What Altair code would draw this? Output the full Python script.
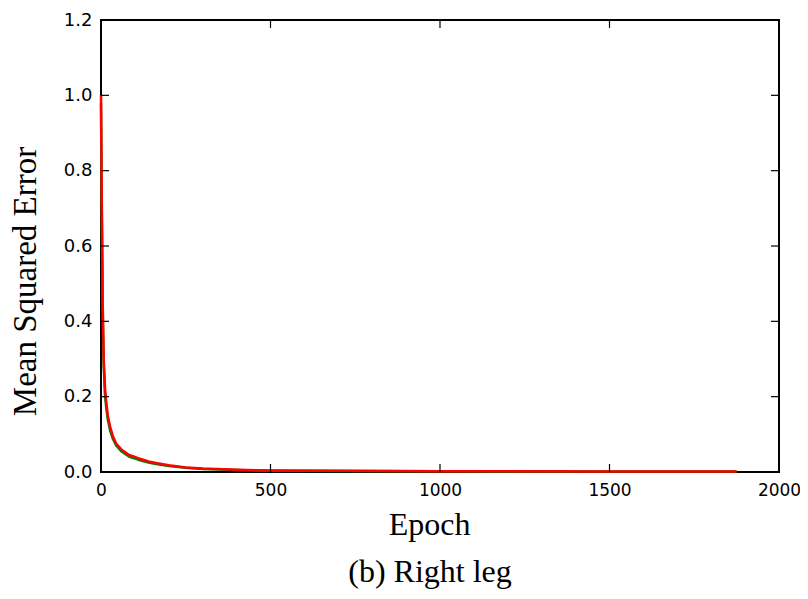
import altair as alt
import pandas as pd

epochs = [0, 2, 5, 8, 12, 15, 20, 27, 35, 45, 60, 83, 100, 115, 140, 162, 200, 250, 300, 400, 500, 700, 1000, 1500, 1875]
mse_green = [0.98, 0.72, 0.43, 0.28, 0.20, 0.175, 0.14, 0.11, 0.088, 0.07, 0.055, 0.041, 0.036, 0.031, 0.025, 0.021, 0.016, 0.011, 0.008, 0.005, 0.0035, 0.0025, 0.0018, 0.0013, 0.001]
mse_red = [1.0, 0.75, 0.45, 0.30, 0.22, 0.19, 0.15, 0.12, 0.095, 0.075, 0.06, 0.045, 0.04, 0.035, 0.028, 0.024, 0.018, 0.012, 0.009, 0.006, 0.004, 0.003, 0.002, 0.0015, 0.001]
x_ticks = [0, 500, 1000, 1500, 2000]
y_ticks = [0.0, 0.2, 0.4, 0.6, 0.8, 1.0, 1.2]

W, H = 678, 452

df = pd.DataFrame({
    "epoch": epochs * 2,
    "mse": mse_green + mse_red,
    "series": ["green"] * len(epochs) + ["red"] * len(epochs),
})
xt = pd.DataFrame({"t": x_ticks})
yt = pd.DataFrame({"t": y_ticks})

xscale = alt.Scale(domain=[0, 2000], nice=False, zero=False)
yscale = alt.Scale(domain=[0, 1.2], nice=False, zero=False)

xaxis = alt.Axis(values=x_ticks, format="d", ticks=False, domain=False, grid=False,
                 labelFlush=False, labelOverlap=False,
                 labelFont="DejaVu Sans", labelFontSize=17, labelColor="black", labelPadding=10,
                 title="Epoch", titleFont="Liberation Serif", titleFontSize=32, titleFontWeight="normal",
                 titleColor="black", titleBaseline="alphabetic", titleAlign="center",
                 titleX=328, titleY=62)
yaxis = alt.Axis(values=y_ticks, format=".1f", ticks=False, domain=False, grid=False,
                 labelFlush=False, labelOverlap=False,
                 labelFont="DejaVu Sans", labelFontSize=18, labelColor="black", labelPadding=9,
                 title="Mean Squared Error", titleFont="Liberation Serif", titleFontSize=33,
                 titleFontWeight="normal", titleColor="black", titleBaseline="alphabetic",
                 titleAlign="center", titleAngle=-90, titleX=-66, titleY=261)

base = alt.Chart(df)
green = base.transform_filter(alt.datum.series == "green").mark_line(
    color="#008000", strokeWidth=2.5).encode(
    x=alt.X("epoch:Q", scale=xscale, axis=xaxis),
    y=alt.Y("mse:Q", scale=yscale, axis=yaxis),
)
red = base.transform_filter(alt.datum.series == "red").mark_line(
    color="#ff0000", strokeWidth=2.5).encode(
    x=alt.X("epoch:Q", scale=xscale),
    y=alt.Y("mse:Q", scale=yscale),
)

tick_style = dict(color="black", strokeWidth=1.2)
xb = alt.Chart(xt).mark_rule(**tick_style).encode(
    x=alt.X("t:Q", scale=xscale), y=alt.value(H), y2=alt.value(H - 8))
xtop = alt.Chart(xt).mark_rule(**tick_style).encode(
    x=alt.X("t:Q", scale=xscale), y=alt.value(0), y2=alt.value(8))
yl = alt.Chart(yt).mark_rule(**tick_style).encode(
    y=alt.Y("t:Q", scale=yscale), x=alt.value(0), x2=alt.value(8))
yr = alt.Chart(yt).mark_rule(**tick_style).encode(
    y=alt.Y("t:Q", scale=yscale), x=alt.value(W), x2=alt.value(W - 8))

chart = alt.layer(green, red, xb, xtop, yl, yr).properties(
    width=W, height=H,
    title=alt.TitleParams("(b) Right leg", orient="bottom", anchor="middle", dx=-10, offset=17,
                          font="Liberation Serif", fontSize=32, fontWeight="normal", color="black"),
    autosize=alt.AutoSizeParams(type="none"),
    padding={"left": 93, "top": 12, "right": 21, "bottom": 119},
).configure(background="white").configure_view(stroke="black", strokeWidth=2)

chart.save("out.html", embed_options={"renderer": "svg", "actions": False})
